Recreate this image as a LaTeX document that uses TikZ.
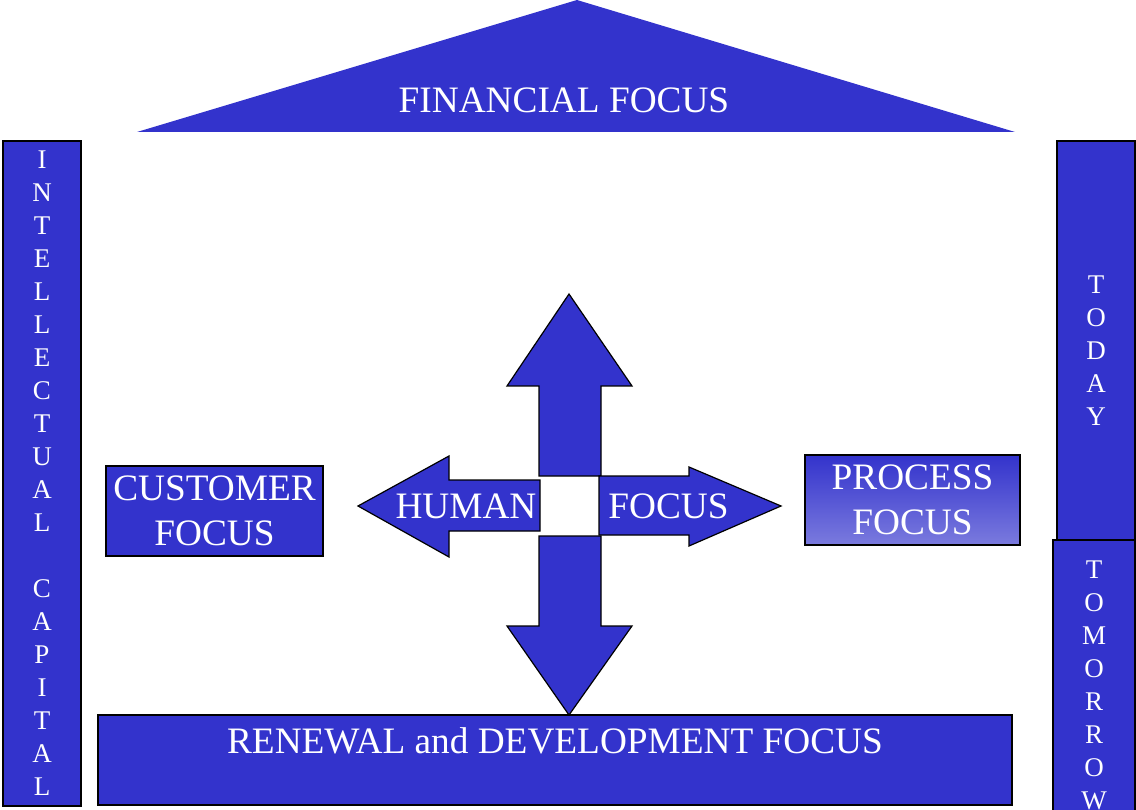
\documentclass[tikz,border=0pt]{standalone}
\usepackage{fontspec}
\setmainfont{Liberation Serif}
\usetikzlibrary{positioning}
\definecolor{focusblue}{HTML}{3333CC}

\tikzset{
  focusbox/.style={draw=black,line width=1.6pt,fill=focusblue,inner sep=0pt},
  bigtext/.style={text=white,font=\fontsize{37.3}{45}\selectfont,align=center,inner sep=0pt},
  lettertext/.style={text=white,font=\fontsize{27}{33}\selectfont,align=center,inner sep=0pt},
  crossarrow/.style={draw=black,line width=1.2pt,fill=focusblue,line join=miter}
}

\begin{document}
\begin{tikzpicture}[x=1pt,y=-1pt]
\useasboundingbox (0,0) rectangle (1136,810);
% roof
\fill[focusblue] (137,132) -- (577,0) -- (1015,132) -- cycle;
\node[bigtext] (financial) at (564,100) {FINANCIAL FOCUS};
% side bars
\node[focusbox,lettertext,minimum width=78pt,minimum height=665pt] (intellectual) at (42,473.5)
  {I\\N\\T\\E\\L\\L\\E\\C\\T\\U\\A\\L\\~\\C\\A\\P\\I\\T\\A\\L};
\node[focusbox,minimum width=78pt,minimum height=399pt] (today) at (1096,340.5) {};
\node[lettertext] (todaytext) at ([yshift=-10pt]today.center) {T\\O\\D\\A\\Y};
\node[focusbox,lettertext,minimum width=82pt,minimum height=290pt] (tomorrow) at (1094,685)
  {T\\O\\M\\O\\R\\R\\O\\W};
% focus boxes
\node[focusbox,bigtext,minimum width=217pt,minimum height=90pt] (customer) at (214.5,511) {CUSTOMER\\FOCUS};
\node[focusbox,bigtext,minimum width=215pt,minimum height=90pt,
  top color=focusblue,middle color=focusblue,bottom color=focusblue!65!white] (process) at (912.5,500) {PROCESS\\FOCUS};
\node[focusbox,minimum width=914pt,minimum height=90pt] (renewal) at (555,760) {};
\node[bigtext,below=13pt of renewal.north] (renewaltext) {RENEWAL and DEVELOPMENT FOCUS};
% cross of arrows
\draw[crossarrow] (539,476) -- (539,386) -- (507,386) -- (569,294) -- (632,386) -- (601,386) -- (601,476) -- cycle;
\draw[crossarrow] (539,536) -- (539,626) -- (507,626) -- (569,715) -- (632,626) -- (601,626) -- (601,536) -- cycle;
\draw[crossarrow] (540,480) -- (449,480) -- (449,456) -- (358,506) -- (449,557) -- (449,531) -- (540,531) -- cycle;
\draw[crossarrow] (599,476) -- (689,476) -- (689,467) -- (781,506) -- (689,546) -- (689,535) -- (599,535) -- cycle;
\node[bigtext] (human) at (466,506) {HUMAN};
\node[bigtext] (focus) at (668.5,506) {FOCUS};
\end{tikzpicture}
\end{document}
